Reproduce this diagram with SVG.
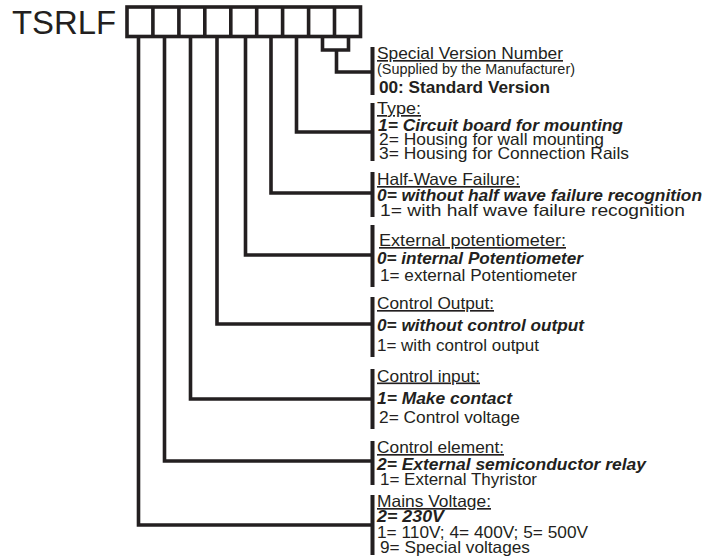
<svg xmlns="http://www.w3.org/2000/svg" width="706" height="559" viewBox="0 0 706 559">
<style>
.t{font-family:"Liberation Sans",Arial,sans-serif;font-size:16.5px;fill:#231f20}
.h{text-decoration:underline}
.bi{font-weight:bold;font-style:italic}
.b{font-weight:bold}
.bar{fill:#231f20}
.box{fill:none;stroke:#231f20;stroke-width:3.6}
.con{fill:none;stroke:#231f20;stroke-width:3.6;stroke-linejoin:miter;stroke-linecap:butt}
</style>
<rect width="706" height="559" fill="#fff"/>
<g id="code">
<text class="t" x="12" y="33.5" style="font-size:32.5px" textLength="104" lengthAdjust="spacingAndGlyphs">TSRLF</text>
<rect class="box" x="127" y="7" width="233.5" height="29.5"/>
<path class="box" d="M152.9,7V36.5M178.9,7V36.5M204.8,7V36.5M230.8,7V36.5M256.7,7V36.5M282.6,7V36.5M308.6,7V36.5M334.5,7V36.5"/>
</g>
<g id="connectors">
<path class="con" d="M322.5,37V50H348.5V37M336.5,50V72H371"/>
<path class="con" d="M296.5,38V132H371"/>
<path class="con" d="M271,38V193H371"/>
<path class="con" d="M245.5,38V255H371"/>
<path class="con" d="M217,38V324H371"/>
<path class="con" d="M190.5,38V399H371"/>
<path class="con" d="M164.5,38V461H371"/>
<path class="con" d="M138.5,38V525H371"/>
</g>
<g id="special-version">
<rect class="bar" x="370.5" y="47" width="4" height="48"/>
<text class="t h" x="377" y="59" textLength="186" lengthAdjust="spacingAndGlyphs">Special Version Number</text>
<text class="t" x="377" y="74" style="font-size:14px" textLength="198" lengthAdjust="spacingAndGlyphs">(Supplied by the Manufacturer)</text>
<text class="t b" x="379" y="92.5" textLength="171" lengthAdjust="spacingAndGlyphs">00: Standard Version</text>
</g>
<g id="type">
<rect class="bar" x="370.5" y="103" width="4" height="58"/>
<text class="t h" x="377" y="114" textLength="44" lengthAdjust="spacingAndGlyphs">Type:</text>
<text class="t bi" x="378" y="131" textLength="245" lengthAdjust="spacingAndGlyphs">1= Circuit board for mounting</text>
<text class="t" x="379" y="145" textLength="225" lengthAdjust="spacingAndGlyphs">2= Housing for wall mounting</text>
<text class="t" x="379" y="159" textLength="250" lengthAdjust="spacingAndGlyphs">3= Housing for Connection Rails</text>
</g>
<g id="half-wave">
<rect class="bar" x="370.5" y="172" width="4" height="45"/>
<text class="t h" x="377" y="185" textLength="143" lengthAdjust="spacingAndGlyphs">Half-Wave Failure:</text>
<text class="t bi" x="377" y="200.5" textLength="325" lengthAdjust="spacingAndGlyphs">0= without half wave failure recognition</text>
<text class="t" x="380" y="216" textLength="305" lengthAdjust="spacingAndGlyphs">1= with half wave failure recognition</text>
</g>
<g id="potentiometer">
<rect class="bar" x="370.5" y="225" width="4" height="62"/>
<text class="t h" x="379" y="246" textLength="187" lengthAdjust="spacingAndGlyphs">External potentiometer:</text>
<text class="t bi" x="377" y="264" textLength="206" lengthAdjust="spacingAndGlyphs">0= internal Potentiometer</text>
<text class="t" x="380" y="281" textLength="197" lengthAdjust="spacingAndGlyphs">1= external Potentiometer</text>
</g>
<g id="control-output">
<rect class="bar" x="370.5" y="297" width="4" height="60"/>
<text class="t h" x="377" y="309" textLength="117" lengthAdjust="spacingAndGlyphs">Control Output:</text>
<text class="t bi" x="377" y="331" textLength="207" lengthAdjust="spacingAndGlyphs">0= without control output</text>
<text class="t" x="377" y="350.5" textLength="162" lengthAdjust="spacingAndGlyphs">1= with control output</text>
</g>
<g id="control-input">
<rect class="bar" x="370.5" y="369" width="4" height="60"/>
<text class="t h" x="377" y="381.5" textLength="103" lengthAdjust="spacingAndGlyphs">Control input:</text>
<text class="t bi" x="377" y="404" textLength="135" lengthAdjust="spacingAndGlyphs">1= Make contact</text>
<text class="t" x="379" y="422.5" textLength="141" lengthAdjust="spacingAndGlyphs">2= Control voltage</text>
</g>
<g id="control-element">
<rect class="bar" x="370.5" y="441" width="4" height="44"/>
<text class="t h" x="377" y="453" textLength="127" lengthAdjust="spacingAndGlyphs">Control element:</text>
<text class="t bi" x="377" y="470" textLength="269" lengthAdjust="spacingAndGlyphs">2= External semiconductor relay</text>
<text class="t" x="380" y="485" textLength="157" lengthAdjust="spacingAndGlyphs">1= External Thyristor</text>
</g>
<g id="mains-voltage">
<rect class="bar" x="370.5" y="495" width="4" height="60"/>
<text class="t h" x="377" y="507" textLength="114" lengthAdjust="spacingAndGlyphs">Mains Voltage:</text>
<text class="t bi" x="377" y="521.5" textLength="67" lengthAdjust="spacingAndGlyphs">2= 230V</text>
<text class="t" x="377" y="538" textLength="211" lengthAdjust="spacingAndGlyphs">1= 110V; 4= 400V; 5= 500V</text>
<text class="t" x="380" y="553" textLength="150" lengthAdjust="spacingAndGlyphs">9= Special voltages</text>
</g>
</svg>
